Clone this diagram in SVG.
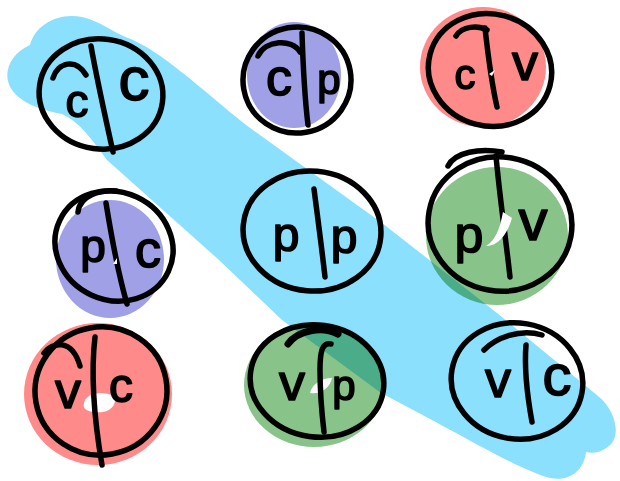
<svg xmlns="http://www.w3.org/2000/svg" width="620" height="481" viewBox="0 0 620 481">
<style>
.bg{fill:#ffffff}
.band{fill:#8ae0fd}
.fp{fill:#9fa0e6;mix-blend-mode:multiply}
.fr{fill:#ff8a8a;mix-blend-mode:multiply}
.fg{fill:#88c48a;mix-blend-mode:multiply}
.hl{fill:#ffffff}
.ink{fill:none;stroke:#000;stroke-width:5.5;stroke-linecap:round;stroke-linejoin:round}
.lt{font-family:"Liberation Sans","DejaVu Sans",sans-serif;font-weight:normal;fill:#000;stroke:#000;stroke-width:1.6;stroke-linejoin:round;text-anchor:middle}
</style>
<rect class="bg" x="0" y="0" width="620" height="481"/>
<g id="band">
<path class="band" d="M 30,45 C 35,25 58,12 82,17 C 100,21 112,32 128,38 C 160,50 200,88 246,125 L 382,223 L 497,313 L 598,396 C 615,410 620,432 612,443 C 604,452 594,454 586,452 C 584,470 570,482 550,478 C 520,470 480,445 381,393 L 282,320 L 219,260 L 107,160 C 92,140 80,122 62,114 C 42,110 22,104 12,90 C 2,76 8,55 30,45 Z"/>
</g>
<g id="connectors"></g>
<g id="n-cc">
<ellipse class="ink" cx="101" cy="94" rx="62" ry="55" transform="rotate(8 101 94)"/>
<path class="ink" d="M 53,78 C 58,62 76,58 86,75"/>
<path class="ink" d="M 91,46 C 98,85 106,120 113,152"/>
<text class="lt" x="77" y="117" font-size="46">c</text>
<text class="lt" x="134" y="100" font-size="62">c</text>
</g>
<g id="n-cp">
<ellipse class="fp" cx="294" cy="75" rx="47" ry="53"/>
<ellipse class="ink" cx="297" cy="80" rx="54" ry="53" transform="rotate(-10 297 80)"/>
<path class="ink" d="M 258,56 C 265,40 292,38 300,52"/>
<path class="ink" d="M 302,33 C 303,65 305,100 308,125"/>
<text class="lt" x="279" y="95" font-size="52">c</text>
<text class="lt" x="329" y="94" font-size="42">p</text>
</g>
<g id="n-cv">
<ellipse class="fr" cx="483" cy="67" rx="63" ry="60"/>
<ellipse class="ink" cx="490" cy="70" rx="62" ry="56" transform="rotate(15 490 70)"/>
<path class="ink" d="M 456,36 C 462,26 478,25 487,30"/>
<path class="ink" d="M 485,28 C 488,55 492,85 497,107"/>
<path class="hl" d="M 489,74 l 6,-4 l -3,6 z"/>
<text class="lt" x="465" y="89" font-size="42">c</text>
<text class="lt" x="525" y="80" font-size="52">v</text>
</g>
<g id="n-pc">
<ellipse class="fp" cx="110" cy="259" rx="54" ry="59"/>
<ellipse class="ink" cx="114" cy="246" rx="60" ry="54" transform="rotate(25 114 246)"/>
<path class="ink" d="M 78,212 C 80,195 100,190 116,191"/>
<path class="ink" d="M 106,203 C 112,240 120,280 127,304"/>
<path class="hl" d="M 113,264 l 4,-6 l 0,6 z"/>
<text class="lt" x="93" y="262" font-size="46">p</text>
<text class="lt" x="148" y="267" font-size="52">c</text>
</g>
<g id="n-pp">
<ellipse class="ink" cx="312" cy="231" rx="69" ry="60" transform="rotate(5 312 231)"/>
<path class="ink" d="M 314,189 C 318,220 322,250 325,277"/>
<text class="lt" x="286" y="251" font-size="48">p</text>
<text class="lt" x="344" y="253" font-size="48">p</text>
</g>
<g id="n-pv">
<ellipse class="fg" cx="497" cy="236" rx="71" ry="69"/>
<ellipse class="ink" cx="500" cy="224" rx="72" ry="67" transform="rotate(10 500 224)"/>
<path class="ink" d="M 448,166 C 455,152 480,148 502,152"/>
<path class="ink" d="M 496,156 C 500,200 506,240 510,277"/>
<path class="hl" d="M 503,212 C 500,228 496,240 486,246 C 500,246 508,232 512,218 Z"/>
<text class="lt" x="469" y="252" font-size="52">p</text>
<text class="lt" x="533" y="240" font-size="58">v</text>
</g>
<g id="n-vc">
<ellipse class="fr" cx="98" cy="394" rx="74" ry="71"/>
<path class="hl" d="M 84,403 C 86,393 102,390 114,396 C 118,404 110,414 96,412 C 88,412 82,409 84,403 Z"/>
<ellipse class="ink" cx="101" cy="391" rx="66" ry="64" transform="rotate(-10 101 391)"/>
<path class="ink" d="M 44,353 C 52,342 72,338 80,366"/>
<path class="ink" d="M 95,337 C 90,380 96,430 102,465"/>
<text class="lt" x="68" y="408" font-size="52">v</text>
<text class="lt" x="121" y="402" font-size="48">c</text>
</g>
<g id="n-vp">
<ellipse class="fg" cx="314" cy="385" rx="70" ry="62"/>
<path class="hl" d="M 310,393 C 312,384 322,378 332,378 C 330,388 320,395 310,393 Z"/>
<ellipse class="ink" cx="317" cy="381" rx="67" ry="56" transform="rotate(8 317 381)"/>
<path class="ink" d="M 288,344 C 298,330 322,326 338,334" style="stroke-width:7"/>
<path class="ink" d="M 331,344 C 322,342 320,352 320,370 C 320,395 322,415 324,432"/>
<text class="lt" x="292" y="400" font-size="52">v</text>
<text class="lt" x="344" y="400" font-size="42">p</text>
</g>
<g id="n-vc2">
<ellipse class="ink" cx="517" cy="381" rx="66" ry="58" transform="rotate(10 517 381)"/>
<path class="ink" d="M 484,350 C 496,338 520,328 542,335"/>
<path class="ink" d="M 526,345 C 524,370 528,400 532,422"/>
<text class="lt" x="498" y="397" font-size="52">v</text>
<text class="lt" x="557" y="395" font-size="58">c</text>
</g>
</svg>
